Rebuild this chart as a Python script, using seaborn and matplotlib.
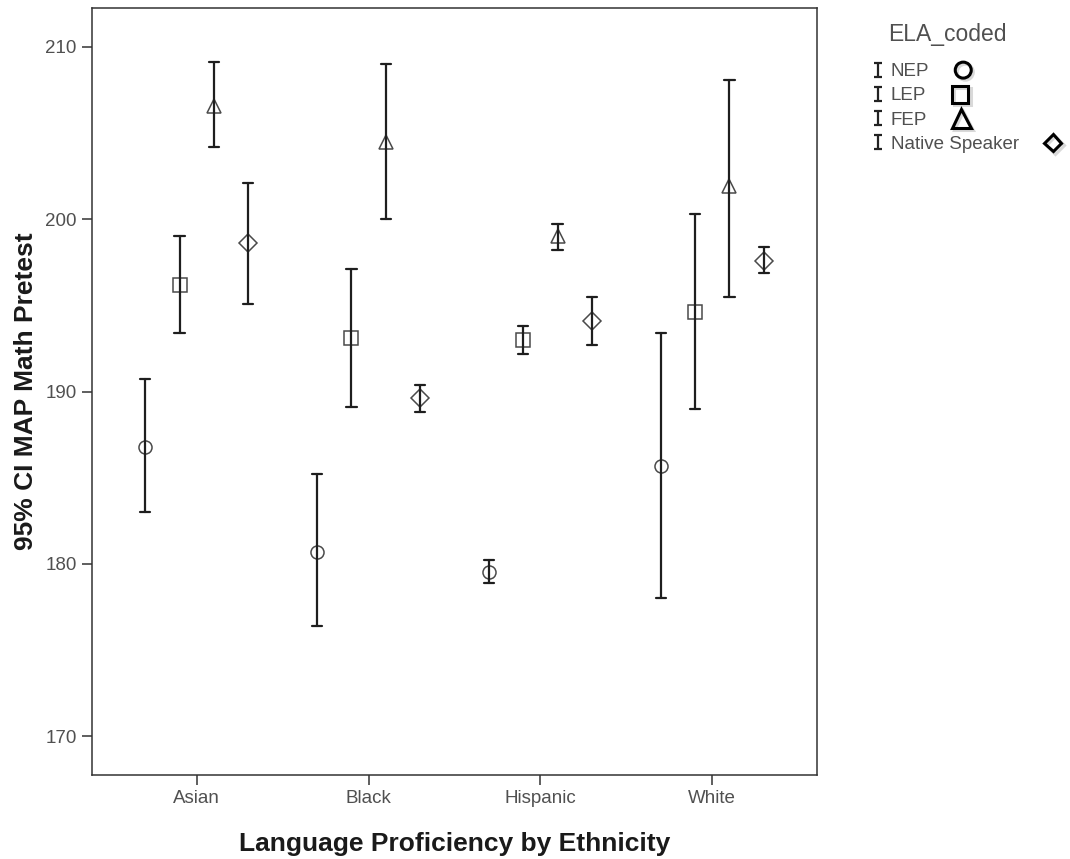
import numpy as np
import pandas as pd
import matplotlib
matplotlib.use("Agg")
import matplotlib.pyplot as plt
import matplotlib.patheffects as pe
from matplotlib.lines import Line2D
from matplotlib.path import Path
from matplotlib.transforms import IdentityTransform
import seaborn as sns

ethnicity = ["Asian", "Black", "Hispanic", "White"]
ela_levels = ["NEP", "LEP", "FEP", "Native Speaker"]
ela_markers = ["o", "s", "^", "D"]

# rows follow ethnicity, columns follow ela_levels
means = [[186.8, 196.2, 206.6, 198.6],
         [180.7, 193.1, 204.5, 189.6],
         [179.5, 193.0, 199.0, 194.1],
         [185.7, 194.6, 201.9, 197.6]]
ci_low = [[183.0, 193.4, 204.2, 195.1],
          [176.4, 189.1, 200.0, 188.8],
          [178.9, 192.2, 198.2, 192.7],
          [178.0, 189.0, 195.5, 196.9]]
ci_high = [[190.7, 199.0, 209.1, 202.1],
           [185.2, 197.1, 209.0, 190.4],
           [180.2, 193.8, 199.7, 195.5],
           [193.4, 200.3, 208.1, 198.4]]
yticks = [170, 180, 190, 200, 210]

# three rows per cell (low, mean, high): median gives the mean, 100% interval gives the CI
rows = []
for i, eth in enumerate(ethnicity):
    for j, ela in enumerate(ela_levels):
        for v in (ci_low[i][j], means[i][j], ci_high[i][j]):
            rows.append({"Ethnicity": eth, "ELA_coded": ela, "Score": v})
df = pd.DataFrame(rows)

sns.set_style("ticks")
plt.rcParams["font.family"] = ["Liberation Sans", "DejaVu Sans"]

fig = plt.figure(figsize=(10.7, 8.59), dpi=100)
ax = fig.add_axes([92 / 1070, 1 - 775 / 859, (817 - 92) / 1070, (775 - 8) / 859])

sns.pointplot(data=df, x="Ethnicity", y="Score", hue="ELA_coded",
              order=ethnicity, hue_order=ela_levels,
              estimator="median", errorbar=("pi", 100),
              dodge=0.6, markers=ela_markers, linestyle="none",
              palette={k: "#4a4a4a" for k in ela_levels},
              capsize=0.06, err_kws={"color": "#1e1e1e", "linewidth": 1.6},
              markersize=9.4, markeredgewidth=1.1, markerfacecolor="none",
              legend=False, ax=ax)

ax.set_xlim(-0.61, 3.61)
ax.set_ylim(167.74, 212.26)
ax.set_yticks(yticks)
for s in ax.spines.values():
    s.set_visible(True)
    s.set_color("#333333")
    s.set_linewidth(1.1)
ax.tick_params(direction="out", length=7, width=1.1, color="#333333",
               labelcolor="#505050", labelsize=13.5, pad=4)
ax.set_xlabel("Language Proficiency by Ethnicity", fontsize=19, fontweight="bold",
              color="#1a1a1a", labelpad=18)
ax.set_ylabel("95% CI MAP Math Pretest", fontsize=19, fontweight="bold",
              color="#1a1a1a", labelpad=5.5)

# legend: error-bar glyph, label, then the ELA marker after the text
fig.text(888 / 1070, 1 - 34 / 859, "ELA_coded", fontsize=16.5, color="#505050",
         ha="left", va="center")
ibar = Path([(-0.3, -0.5), (0.3, -0.5), (0, -0.5), (0, 0.5), (-0.3, 0.5), (0.3, 0.5)],
            [Path.MOVETO, Path.LINETO, Path.MOVETO, Path.LINETO, Path.MOVETO, Path.LINETO])
handles = [Line2D([], [], linestyle="none", marker=ibar, markersize=9.4,
                  markeredgewidth=1.6, color="#222222") for _ in ela_levels]
leg = fig.legend(handles, ela_levels, loc="upper left",
                 bbox_to_anchor=(872 / 1070, 1 - 63 / 859), frameon=False,
                 fontsize=13.5, handlelength=0.6, handletextpad=0.4,
                 labelspacing=0.38, borderpad=0, borderaxespad=0)
for t in leg.get_texts():
    t.set_color("#505050")

fig.canvas.draw()
renderer = fig.canvas.get_renderer()
ext = [t.get_window_extent(renderer) for t in leg.get_texts()]
col = max(e.x1 for e in ext[:3]) + 29
leg_sizes = [11.5, 12, 13.5, 8.7]
for e, m, ms in zip(ext, ela_markers, leg_sizes):
    x = max(col, e.x1 + 34)
    y = (e.y0 + e.y1) / 2 + 1.5
    mk = Line2D([x], [y], linestyle="none", marker=m, markersize=ms,
                markeredgewidth=2.2, markeredgecolor="black",
                markerfacecolor="none", transform=IdentityTransform(),
                path_effects=[pe.SimpleLineShadow(offset=(1.5, -1.5), alpha=0.15),
                              pe.Normal()])
    fig.add_artist(mk)

fig.savefig("out.png", dpi=100)
